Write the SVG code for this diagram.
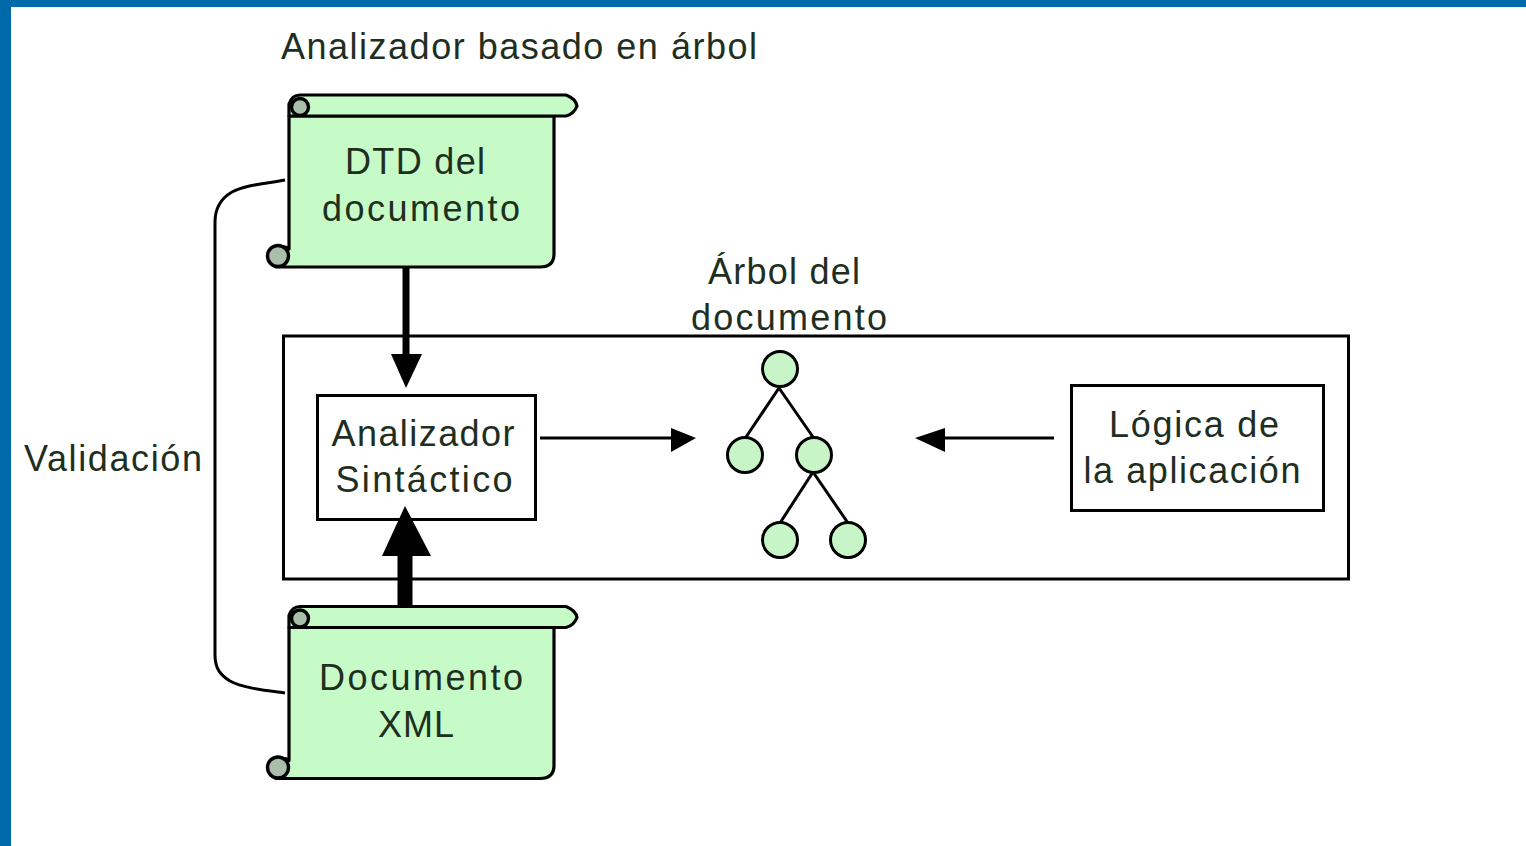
<svg xmlns="http://www.w3.org/2000/svg" width="1526" height="846" viewBox="0 0 1526 846">
<style>
text{font-family:"Liberation Sans",Arial,sans-serif;font-size:36px;fill:#1f2f1f;text-anchor:middle}
.s{fill:#c6fac6;stroke:#000;stroke-width:3.2;stroke-linejoin:round}
.g{fill:#a9bfa9;stroke:#000;stroke-width:3.4}
.b{fill:#fff;stroke:#000;stroke-width:3}
.n{fill:none;stroke:#000;stroke-width:3}
.c{fill:#c8f5c8;stroke:#000;stroke-width:3}
.l{fill:none;stroke:#000;stroke-width:3}
</style>
<defs>
<g id="scroll">
<path class="s" d="M-1 20H264V158Q264 171 250 171H-14A10 10 0 0 1 -1 153Z"/>
<path class="s" d="M10 -1H276Q286 3 287 10Q284 18 276 20H-1V8Q2 -1 10 -1Z"/>
<circle class="g" cx="10" cy="11" r="8.500"/>
<circle class="g" cx="-12" cy="160" r="10.500"/>
</g>
</defs>
<rect id="band-top" x="0" y="0" width="1526" height="7" fill="#0069a8"/>
<rect id="band-left" x="0" y="0" width="11" height="846" fill="#0069a8"/>
<text id="title" x="519" y="59" textLength="476">Analizador basado en árbol</text>
<g id="container"><rect class="b" x="283.500" y="336" width="1065" height="243"/></g>
<g id="dtd"><use href="#scroll" x="290" y="96"/><text x="415" y="174" textLength="140">DTD del</text><text x="421" y="221" textLength="198">documento</text></g>
<g id="xml"><use href="#scroll" x="290" y="607.500"/><text x="421" y="690" textLength="204">Documento</text><text x="416" y="737" textLength="76">XML</text></g>
<g id="parser"><rect class="b" x="317.500" y="395.500" width="218" height="124"/><text x="423" y="446" textLength="183">Analizador</text><text x="424" y="492" textLength="177">Sintáctico</text></g>
<g id="logic"><rect class="b" x="1071.500" y="385.500" width="252" height="125"/><text x="1194" y="437" textLength="170">Lógica de</text><text x="1192" y="483" textLength="217">la aplicación</text></g>
<g id="tree">
<circle class="c" cx="780" cy="369" r="17.500"/>
<circle class="c" cx="745" cy="455" r="17.500"/>
<circle class="c" cx="814" cy="455" r="17.500"/>
<circle class="c" cx="780" cy="540" r="17.500"/>
<circle class="c" cx="848" cy="540" r="17.500"/>
</g>
<text id="arbol1" x="784" y="284" textLength="152">Árbol del</text>
<text id="arbol2" x="789" y="330" textLength="196">documento</text>
<text id="validacion" x="113" y="471" textLength="178">Validación</text>
<g id="connectors">
<path d="M285 180C263 184 245 185 232 192C220 199 215 210 215 222V655C215 668 220 675 230 681C243 688 263 690 285 693" class="l"/>
<path d="M406 268V360" fill="none" stroke="#000" stroke-width="7"/>
<path d="M391 354H422L406 388Z" fill="#000"/>
<path d="M405 552V607" fill="none" stroke="#000" stroke-width="15"/>
<path d="M382 556L405 506L431 556Z" fill="#000"/>
<path class="l" d="M540 438H680"/>
<path d="M671 428L696 438L671 452Z" fill="#000"/>
<path class="l" d="M930 438H1054"/>
<path d="M945 428L915 438L945 452Z" fill="#000"/>
<path class="l" d="M779 388L746 437M779 388L813 437M813 472L780 523M813 472L848 523"/>
</g>
</svg>
